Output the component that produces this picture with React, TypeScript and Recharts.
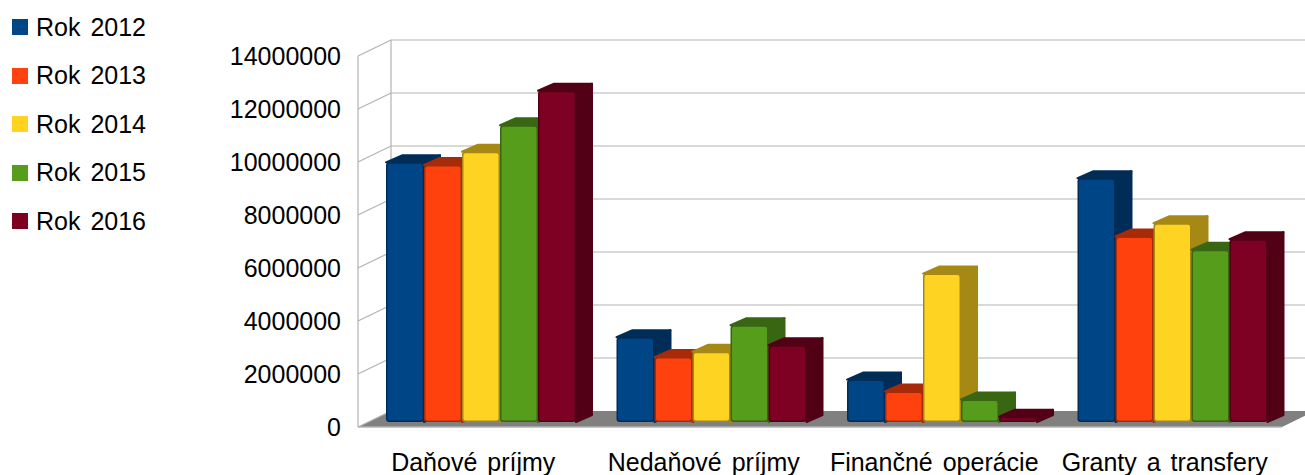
import { Bar, BarChart, CartesianGrid, Legend, XAxis, YAxis } from "recharts";

const categories = ["Daňové príjmy", "Nedaňové príjmy", "Finančné operácie", "Granty a transfery"];
const rok2012 = [9800000, 3200000, 1600000, 9200000];
const rok2013 = [9700000, 2450000, 1150000, 7000000];
const rok2014 = [10200000, 2650000, 5600000, 7500000];
const rok2015 = [11200000, 3650000, 850000, 6500000];
const rok2016 = [12500000, 2900000, 200000, 6900000];
const yTicks = [0, 2000000, 4000000, 6000000, 8000000, 10000000, 12000000, 14000000];

const data = categories.map((name, i) => ({
  name,
  rok2012: rok2012[i],
  rok2013: rok2013[i],
  rok2014: rok2014[i],
  rok2015: rok2015[i],
  rok2016: rok2016[i],
}));

const series = [
  { key: "rok2012", name: "Rok 2012", fill: "#004586", dark: "#002d57" },
  { key: "rok2013", name: "Rok 2013", fill: "#ff420e", dark: "#a62b09" },
  { key: "rok2014", name: "Rok 2014", fill: "#ffd320", dark: "#a68915" },
  { key: "rok2015", name: "Rok 2015", fill: "#579d1c", dark: "#396612" },
  { key: "rok2016", name: "Rok 2016", fill: "#7e0021", dark: "#520016" },
];

const FONT = "'Liberation Sans', Arial, sans-serif";
const WIDTH = 1305;
const HEIGHT = 475;
const PLOT_TOP = 51;
const PLOT_BOTTOM = 422;
const FRONT_X = 358;
const BACK_X = 391;
const FRONT_DY = 5;
const BACK_DY = -11;
const FLOOR_END = 1282;
const GRID = "#b3b3b3";

// wall and floor are hung on the grid lines so they follow the y scale
function GridLine(props: any) {
  const y = props.y1;
  const isBase = Math.abs(y - PLOT_BOTTOM) < 1;
  const isTop = Math.abs(y - PLOT_TOP) < 1;
  const back = y + BACK_DY;
  const front = y + FRONT_DY;
  return (
    <g>
      {isBase && (
        <polygon
          points={`${FRONT_X},${front} ${BACK_X},${back} ${FLOOR_END + 33},${back} ${FLOOR_END},${front}`}
          fill="#808080"
        />
      )}
      {isBase && <line x1={FRONT_X} x2={FLOOR_END} y1={front} y2={front} stroke={GRID} strokeWidth={1.5} />}
      {isTop && (
        <>
          <line x1={BACK_X} x2={BACK_X} y1={back} y2={PLOT_BOTTOM + BACK_DY} stroke={GRID} strokeWidth={1.2} />
          <line x1={FRONT_X} x2={FRONT_X} y1={front} y2={PLOT_BOTTOM + FRONT_DY} stroke={GRID} strokeWidth={1.2} />
        </>
      )}
      <line x1={FRONT_X} y1={front} x2={BACK_X} y2={back} stroke={GRID} strokeWidth={1.2} />
      {!isBase && <line x1={BACK_X} y1={back} x2={WIDTH} y2={back} stroke={GRID} strokeWidth={1.2} />}
    </g>
  );
}

const DEPTH_X = 16;
const DEPTH_Y = 7;

function Bar3D(props: any) {
  const { x, y, width, height, fill, dark } = props;
  const r = x + width;
  const b = y + height;
  return (
    <g>
      <polygon
        points={`${r},${y} ${r + DEPTH_X},${y - DEPTH_Y} ${r + DEPTH_X},${b - DEPTH_Y} ${r},${b}`}
        fill={dark}
        stroke={dark}
        strokeWidth={2}
        strokeLinejoin="round"
      />
      <polygon
        points={`${x},${y} ${x + DEPTH_X},${y - DEPTH_Y} ${r + DEPTH_X},${y - DEPTH_Y} ${r},${y}`}
        fill={dark}
        stroke={dark}
        strokeWidth={2}
        strokeLinejoin="round"
      />
      <rect x={x} y={y} width={width} height={height} rx={3} fill={dark} />
      <rect
        x={x + 1.5}
        y={y + 1.5}
        width={Math.max(width - 3, 0)}
        height={Math.max(height - 3, 0)}
        rx={2}
        fill={fill}
        filter="url(#soft)"
      />
    </g>
  );
}

function YTick(props: any) {
  const { y, payload } = props;
  return (
    <text x={341} y={y + FRONT_DY + 9} textAnchor="end" fontFamily={FONT} fontSize={25} fill="#000">
      {payload.value}
    </text>
  );
}

function XTick(props: any) {
  const { x, payload } = props;
  return (
    <text x={x - 8} y={471} textAnchor="middle" fontFamily={FONT} fontSize={25} wordSpacing={3} fill="#000">
      {payload.value}
    </text>
  );
}

function LegendList(props: any) {
  return (
    <div style={{ fontFamily: FONT, fontSize: 25, wordSpacing: 3, color: "#000" }}>
      {props.payload.map((item: any) => (
        <div key={item.value} style={{ display: "flex", alignItems: "center", height: 48.5 }}>
          <span style={{ width: 16, height: 16, marginLeft: 12, marginRight: 8, background: item.color }} />
          <span>{item.value}</span>
        </div>
      ))}
    </div>
  );
}

export default function App() {
  return (
    <div style={{ position: "absolute", left: 0, top: 0, width: WIDTH, height: HEIGHT, overflow: "hidden", background: "#fff" }}>
      <BarChart
        width={WIDTH}
        height={HEIGHT}
        data={data}
        barGap={0}
        barCategoryGap={20}
        margin={{ top: PLOT_TOP, right: 17, bottom: 0, left: 0 }}
      >
        <defs>
          <filter id="soft" x="-10%" y="-10%" width="120%" height="120%">
            <feGaussianBlur stdDeviation="0.7" />
          </filter>
        </defs>
        <CartesianGrid vertical={false} horizontal={(p: any) => <GridLine key={p.key} {...p} />} />
        <XAxis
          dataKey="name"
          axisLine={false}
          tickLine={false}
          height={HEIGHT - PLOT_BOTTOM}
          interval={0}
          tick={<XTick />}
        />
        <YAxis
          domain={[0, 14000000]}
          ticks={yTicks}
          axisLine={false}
          tickLine={false}
          width={366}
          interval={0}
          tick={<YTick />}
        />
        <Legend
          layout="vertical"
          align="center"
          verticalAlign="middle"
          content={<LegendList />}
          wrapperStyle={{ position: "absolute", left: 0, top: 3, width: 170 }}
        />
        {series.map((s) => (
          <Bar
            key={s.key}
            dataKey={s.key}
            name={s.name}
            fill={s.fill}
            isAnimationActive={false}
            shape={(p: any) => <Bar3D {...p} dark={s.dark} />}
          />
        ))}
      </BarChart>
    </div>
  );
}
